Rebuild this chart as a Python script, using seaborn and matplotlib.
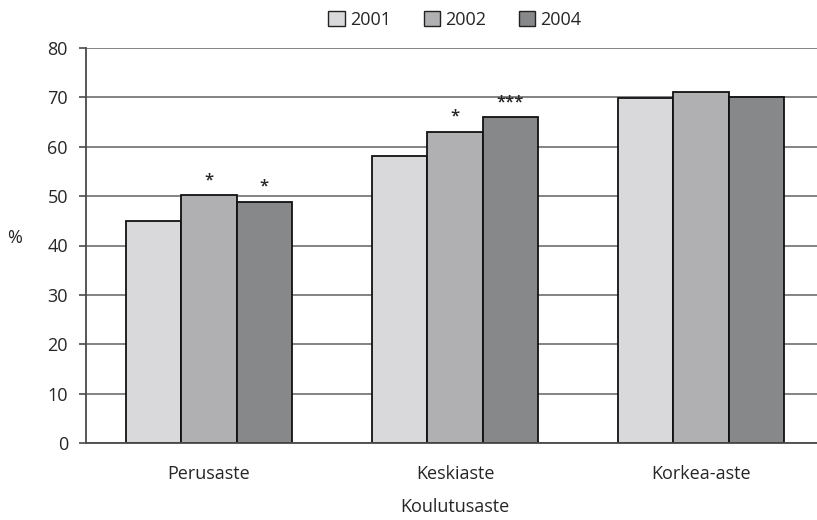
import matplotlib
matplotlib.use("Agg")
import matplotlib.pyplot as plt
import seaborn as sns
import pandas as pd
from matplotlib.patches import Patch

categories = ["Perusaste", "Keskiaste", "Korkea-aste"]
years = ["2001", "2002", "2004"]
values_2001 = [45, 58.2, 69.9]
values_2002 = [50.2, 63.0, 71.1]
values_2004 = [48.9, 66.0, 70.0]
stars_2001 = ["", "", ""]
stars_2002 = ["*", "*", ""]
stars_2004 = ["*", "***", ""]
yticks = [0, 10, 20, 30, 40, 50, 60, 70, 80]

colors = ["#d9d9db", "#b0b0b2", "#87888a"]

rows = []
for yr, vals in zip(years, [values_2001, values_2002, values_2004]):
    for c, v in zip(categories, vals):
        rows.append({"Koulutusaste": c, "Vuosi": yr, "Arvo": v})
df = pd.DataFrame(rows)

sns.set_theme(style="white")
plt.rcParams["font.family"] = ["Open Sans", "DejaVu Sans"]
FS = 13

fig = plt.figure(figsize=(8.17, 5.2), dpi=100)
ax = fig.add_axes([86 / 817, 1 - 443 / 520, (824 - 86) / 817, (443 - 48) / 520])

sns.barplot(data=df, x="Koulutusaste", y="Arvo", hue="Vuosi", hue_order=years,
            order=categories, palette=colors, width=0.675, ax=ax,
            edgecolor="#111111", linewidth=1.3, legend=False, saturation=1)

ax.set_ylim(0, 80)
ax.set_yticks(yticks)
ax.yaxis.grid(True, color="#6e6e6e", linewidth=1.2)
ax.set_axisbelow(True)
for s in ["top", "right"]:
    ax.spines[s].set_visible(False)
for s in ["left", "bottom"]:
    ax.spines[s].set_color("#4a4a4a")
    ax.spines[s].set_linewidth(1.3)
ax.tick_params(axis="y", which="major", direction="out", length=5, width=1.2,
               color="#4a4a4a", labelsize=FS, pad=8, left=True)
ax.tick_params(axis="x", length=0, labelsize=FS, pad=16)
ax.set_xlabel("Koulutusaste", fontsize=FS)
ax.xaxis.set_label_coords(0.5, -(498 - 443) / 395)
ax.set_ylabel("%", fontsize=FS, rotation=0, labelpad=0)
ax.yaxis.set_label_coords(-0.097, 0.495)

# significance stars
star_sets = [stars_2001, stars_2002, stars_2004]
for container, stars in zip(ax.containers, star_sets):
    for bar, st in zip(container, stars):
        if st:
            ax.annotate(st, (bar.get_x() + bar.get_width() / 2, bar.get_height()),
                        xytext=(0, 5), textcoords="offset points",
                        ha="center", va="bottom", fontsize=12, fontweight="semibold")

handles = [Patch(facecolor=c, edgecolor="#222222", linewidth=1.0) for c in colors]
fig.legend(handles, years, loc="center", bbox_to_anchor=(455 / 817, 1 - 20 / 520),
           ncol=3, frameon=False, fontsize=FS, handlelength=0.9, handleheight=0.9,
           handletextpad=0.3, columnspacing=1.8)

fig.savefig("out.png", dpi=100)
